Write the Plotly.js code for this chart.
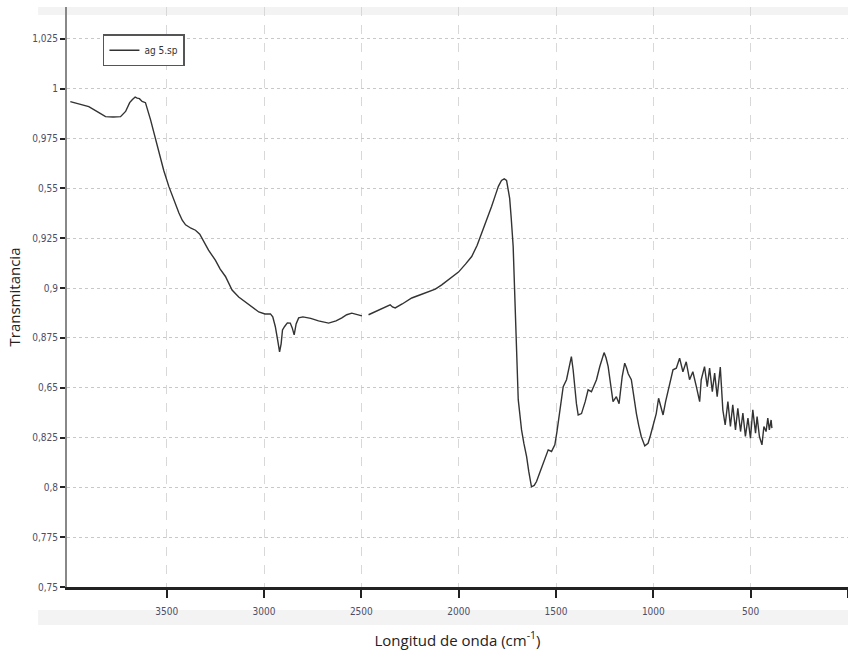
<!DOCTYPE html>
<html>
<head>
<meta charset="utf-8">
<script src="https://cdn.plot.ly/plotly-3.0.1.min.js"></script>
<style>html,body{margin:0;padding:0;background:#fff;}#chart{width:848px;height:661px;}</style>
</head>
<body>
<div id="chart"></div>
<script>
// Wavenumber (cm^-1)
var wavenumber = [3995,3950,3900,3848,3814,3775,3737,3711,3690,3677,3662,3651,3640,3626,3609,3583,3560,3540,3515,3489,3460,3437,3420,3403,3375,3352,3330,3318,3285,3250,3225,3198,3164,3130,3096,3060,3027,2995,2967,2955,2942,2930,2920,2912,2905,2894,2880,2865,2855,2845,2835,2822,2800,2760,2720,2668,2630,2600,2575,2549,2520,2497,2480,2463,2420,2390,2369,2352,2340,2326,2290,2241,2200,2155,2120,2087,2040,2001,1965,1933,1905,1882,1855,1831,1810,1796,1780,1766,1754,1745,1738,1730,1720,1711,1703,1694,1685,1677,1665,1651,1640,1626,1612,1600,1585,1566,1550,1540,1523,1506,1495,1481,1470,1463,1446,1432,1421,1412,1404,1395,1386,1369,1350,1335,1318,1305,1292,1275,1253,1243,1232,1220,1207,1190,1176,1160,1147,1138,1129,1113,1100,1087,1075,1062,1044,1027,1015,1002,985,973,962,950,937,924,912,899,882,865,848,831,814,797,779,762,754,737,723,711,697,685,672,656,643,631,617,604,592,578,566,552,540,527,514,501,489,475,467,455,442,432,421,412,404,395,391];
// Transmitancia
var transmitancia = [0.9935,0.9925,0.991,0.988,0.986,0.9858,0.986,0.9886,0.993,0.9945,0.9958,0.9953,0.995,0.9936,0.993,0.9845,0.976,0.9677,0.959,0.951,0.943,0.9376,0.934,0.9317,0.930,0.929,0.927,0.925,0.919,0.914,0.9095,0.9058,0.899,0.8955,0.893,0.8905,0.888,0.887,0.887,0.8855,0.8807,0.874,0.868,0.872,0.879,0.8807,0.8825,0.8824,0.880,0.8765,0.882,0.885,0.8855,0.8848,0.8835,0.8824,0.8835,0.885,0.8866,0.8874,0.8868,0.886,null,0.8866,0.8885,0.890,0.8907,0.8916,0.8905,0.890,0.892,0.895,0.8965,0.898,0.8995,0.9016,0.905,0.908,0.912,0.9158,0.9215,0.9275,0.934,0.9409,0.947,0.951,0.954,0.9548,0.954,0.949,0.945,0.935,0.9208,0.894,0.864,0.844,0.836,0.8288,0.822,0.8154,0.808,0.8003,0.801,0.8029,0.807,0.812,0.817,0.8188,0.818,0.8213,0.828,0.8372,0.845,0.8505,0.854,0.860,0.8656,0.859,0.8505,0.842,0.8363,0.837,0.843,0.8489,0.848,0.851,0.854,0.8606,0.8676,0.865,0.8606,0.852,0.843,0.8455,0.842,0.8556,0.8623,0.860,0.857,0.854,0.845,0.837,0.831,0.8255,0.8208,0.8221,0.826,0.8305,0.837,0.8447,0.840,0.8363,0.843,0.849,0.854,0.859,0.8598,0.8648,0.858,0.863,0.854,0.858,0.8505,0.843,0.854,0.8606,0.8505,0.8598,0.848,0.8573,0.8455,0.8603,0.8389,0.8313,0.843,0.8305,0.8414,0.8288,0.8397,0.828,0.8372,0.8255,0.8347,0.8246,0.8389,0.8272,0.8355,0.8255,0.8213,0.8305,0.828,0.8347,0.8288,0.8338,0.8297];

var xTickVals = [3500,3000,2500,2000,1500,1000,500,0];
var xTickText = ["3500","3000","2500","2000","1500","1000","500","0"];
var yTickVals = [0.75,0.775,0.8,0.825,0.85,0.875,0.9,0.925,0.95,0.975,1,1.025];
var yTickText = ["0,75","0,775","0,8","0,825","0,65","0,875","0,9","0,925","0,55","0,975","1","1,025"];
var seriesName = "ag 5.sp";

var narrow = "'Liberation Sans Narrow', 'DejaVu Sans Condensed', 'Arial Narrow', sans-serif";

var trace = {
  x: wavenumber, y: transmitancia, type: 'scatter', mode: 'lines',
  name: seriesName, connectgaps: false,
  line: {color: '#333333', width: 1.4}
};

var layout = {
  width: 848, height: 661,
  margin: {l: 67, r: 0, t: 7, b: 74},
  paper_bgcolor: '#ffffff',
  plot_bgcolor: 'rgba(0,0,0,0)',
  showlegend: true,
  legend: {
    x: 0.046, y: 0.953, xanchor: 'left', yanchor: 'top',
    bgcolor: '#ffffff', bordercolor: '#555555', borderwidth: 1.5,
    font: {family: narrow, size: 10, color: '#333'},
    itemwidth: 30, tracegroupgap: 0
  },
  xaxis: {
    range: [4012, 0], tickmode: 'array', tickvals: xTickVals, ticktext: xTickText,
    showgrid: true, gridcolor: '#d8d8d8', griddash: 'dash', gridwidth: 1,
    showline: true, linecolor: '#222222', linewidth: 2.5,
    ticks: 'outside', ticklen: 8, tickwidth: 2, tickcolor: '#222222',
    ticklabelstandoff: 5,
    tickfont: {family: narrow, size: 10, color: '#4d4d66'},
    zeroline: false,
    title: {text: 'Longitud de onda (cm<sup>-1</sup>)', font: {family: 'Open Sans, sans-serif', size: 15, color: '#222'}, standoff: 20}
  },
  yaxis: {
    range: [0.75, 1.041], tickmode: 'array', tickvals: yTickVals, ticktext: yTickText,
    showgrid: true, gridcolor: '#c8c8c8', griddash: 'dot', gridwidth: 1,
    showline: true, linecolor: '#888888', linewidth: 2,
    ticks: 'outside', ticklen: 5, tickwidth: 2, tickcolor: '#222222',
    tickfont: {family: narrow, size: 10, color: '#4d4d66'},
    zeroline: false,
    title: {text: 'Transmitancia', font: {family: 'Open Sans, sans-serif', size: 15, color: '#222'}, standoff: 8}
  },
  shapes: [
    {type: 'rect', xref: 'paper', yref: 'paper', x0: -0.037, x1: 1, y0: 0.986, y1: 1, fillcolor: '#f3f3f3', line: {width: 0}, layer: 'below'},
    {type: 'rect', xref: 'paper', yref: 'paper', x0: -0.037, x1: 1, y0: -0.0655, y1: -0.0397, fillcolor: '#f3f3f3', line: {width: 0}, layer: 'below'}
  ]
};

Plotly.newPlot('chart', [trace], layout, {displayModeBar: false, staticPlot: true});
</script>
</body>
</html>
